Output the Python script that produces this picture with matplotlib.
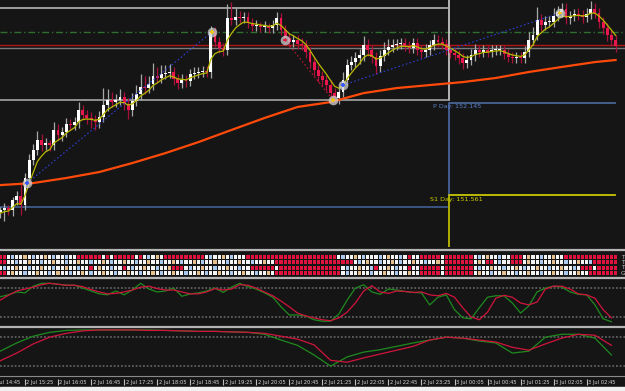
import numpy as np
import pandas as pd
import matplotlib
matplotlib.use("Agg")
from matplotlib import pyplot as plt
from matplotlib.lines import Line2D

W, H = 625, 391
BG = '#151515'
FONT = ['Liberation Sans Narrow', 'DejaVu Sans']

## 5 minute candles, first visible one is 2 Jul 14:55
first_open = 151.455
closes = [
    151.467, 151.479, 151.467, 151.530, 151.555, 151.498, 151.670, 151.784, 151.848, 151.911,
    151.879, 151.892, 151.879, 151.975, 151.943, 151.962, 152.013, 152.006, 152.025, 152.102,
    152.070, 152.051, 152.038, 152.025, 152.057, 152.133, 152.165, 152.152, 152.165, 152.184,
    152.140, 152.102, 152.159, 152.203, 152.248, 152.241, 152.267, 152.317, 152.305, 152.330,
    152.336, 152.343, 152.298, 152.273, 152.292, 152.286, 152.330, 152.336, 152.343, 152.349,
    152.343, 152.597, 152.533, 152.495, 152.483, 152.686, 152.673, 152.692, 152.686, 152.692,
    152.654, 152.635, 152.641, 152.629, 152.635, 152.622, 152.641, 152.686, 152.610, 152.559,
    152.533, 152.546, 152.521, 152.514, 152.470, 152.406, 152.356, 152.317, 152.292, 152.260,
    152.209, 152.178, 152.216, 152.292, 152.387, 152.406, 152.432, 152.451, 152.514, 152.483,
    152.438, 152.381, 152.444, 152.483, 152.502, 152.514, 152.521, 152.527, 152.508, 152.495,
    152.527, 152.483, 152.470, 152.483, 152.514, 152.546, 152.533, 152.521, 152.483, 152.463,
    152.451, 152.432, 152.400, 152.419, 152.451, 152.483, 152.470, 152.483, 152.470, 152.483,
    152.483, 152.483, 152.457, 152.438, 152.432, 152.438, 152.432, 152.470, 152.546, 152.578,
    152.673, 152.641, 152.660, 152.660, 152.698, 152.724, 152.743, 152.686, 152.698, 152.711,
    152.705, 152.692, 152.711, 152.743, 152.717, 152.660, 152.622, 152.578, 152.546, 152.508,
]
# wick lengths in pips (0.01)
up_wick = [
    2, 3, 2, 2, 3, 8, 3, 4, 4, 6, 4, 3, 2, 5, 4, 3, 4, 3, 3, 5,
    3, 3, 4, 3, 4, 11, 7, 5, 4, 5, 3, 4, 5, 6, 8, 7, 5, 8, 6, 6,
    5, 5, 3, 3, 4, 3, 3, 4, 3, 3, 3, 4, 3, 3, 3, 9, 10, 6, 4, 3,
    3, 3, 3, 2, 3, 2, 3, 4, 3, 3, 3, 3, 3, 4, 3, 3, 3, 3, 3, 3,
    3, 3, 4, 5, 4, 4, 4, 4, 6, 4, 3, 3, 4, 5, 5, 4, 3, 3, 3, 3,
    3, 3, 3, 4, 3, 4, 3, 3, 3, 3, 3, 3, 3, 3, 4, 4, 3, 3, 3, 3,
    3, 3, 3, 3, 3, 3, 3, 4, 5, 5, 8, 4, 4, 4, 5, 4, 4, 4, 3, 3,
    4, 3, 4, 5, 4, 3, 3, 3, 3, 3,
]
dn_wick = [
    4, 7, 3, 4, 3, 6, 3, 3, 3, 3, 4, 3, 4, 3, 3, 4, 3, 3, 3, 4,
    3, 4, 5, 5, 4, 3, 4, 3, 3, 3, 4, 6, 4, 3, 4, 4, 3, 4, 3, 3,
    3, 3, 4, 4, 3, 4, 3, 3, 3, 3, 3, 4, 3, 3, 4, 3, 3, 3, 3, 3,
    3, 3, 3, 3, 3, 3, 3, 3, 3, 4, 3, 3, 3, 3, 4, 4, 4, 4, 4, 4,
    6, 4, 4, 3, 3, 3, 3, 4, 4, 4, 4, 5, 4, 3, 3, 3, 3, 3, 3, 3,
    3, 3, 4, 3, 3, 3, 3, 3, 3, 3, 3, 4, 4, 3, 3, 4, 3, 3, 3, 3,
    3, 3, 3, 3, 3, 3, 3, 3, 3, 3, 3, 4, 3, 3, 3, 3, 3, 4, 4, 3,
    3, 4, 3, 3, 3, 4, 4, 4, 4, 4,
]

# fast MA value just before the window, slow MA read every 8 bars
fast_seed = 151.435
slow_idx = [0, 8, 16, 24, 32, 40, 48, 56, 64, 72, 80, 88, 96, 104, 112, 120, 128, 136, 144, 149]
slow_ma = [151.625, 151.638, 151.670, 151.708, 151.765, 151.828, 151.898, 151.975, 152.051, 152.121,
           152.152, 152.209, 152.241, 152.260, 152.279, 152.305, 152.343, 152.375, 152.406, 152.419]

# fractal points and the dotted lines joining them
piv_idx = [6.5, 51.3, 69.0, 80.6, 83.0, 135.5]
piv_price = [151.638, 152.597, 152.546, 152.165, 152.260, 152.717]
piv_color = ['#3a5cff', '#e8c820', '#e02040', '#e8c820', '#3a5cff', '#e8c820']
piv_links = [(0, 1, '#2b3fd0'), (2, 3, '#c01830'), (4, 5, '#2b3fd0')]

# level lines
day_split = 108.6
old_levels = [152.749, 152.165, 151.486]
p_day = 152.145
s1_day = 151.561

# signal grid: r red, w white, b blue, t tan
heat_rows = [
    "rrwbwwtwbw" "wtwbwwbwwr" "rrrrrwrwrr" "rrrwrwbwtw" "rrrrrrrrrr" "wbwwtwbwww" "rrrrrrrrrr" "rrrrrrrrrr"
    "rrwbwwtwbw" "wwbwtwwbwr" "wwrrrrrwrr" "rrrrrwbwtw" "wbwwrrrwtw" "wbwwtwwrrr" "rrrrrrrrrr",
    "rrwwbwwtww" "bwwtwwbwwt" "wwbwwtwbww" "twwbwwtwwb" "wwtwbwwtwb" "wwtwwbwwtw" "wbwwtwwrrr" "rrrrrrrrrr"
    "rrrrrrwbwt" "wwbwwtwbww" "twwbwwtwrr" "rrrrrwtwrr" "wbwwrrrwtw" "wbwwtwwbww" "twwbrrrrrr",
    "wbwwtwwbww" "twwbwwtwwb" "wwrwtwwbww" "rwbwwtwwbw" "wtrrrwbwwt" "wwbwwtwwbw" "wrrrrrrwrr" "rrrrrrrrrr"
    "rrrwbwwtww" "brwwtwbwwr" "wwrrrrrwrr" "rrrrrwbwwt" "wwbwwtwbww" "twwbwwtwwb" "wrrrwrrrrr",
    "rrwtwwbwwt" "wwbwtwwbww" "twbwwtwwbw" "wtwwbwwtwb" "wwtwwbwwtw" "bwwtwwbwwt" "wwbwwtwrrr" "rrrrrrrrrr"
    "rrrwbwwtww" "bwwtwwbwwt" "wwrrrrrwrr" "rrrrrwtwwb" "wwtwwbwwtw" "wbwwtwwbww" "twwrrrrrrr",
]
heat_names = ["T", "T", "T", "G"]
heat_colors = {'r': '#e2123e', 'w': '#f4f4f4', 'b': '#a9c9ee', 't': '#e6bf8e'}

# fast stochastic, every 2 bars
stoch_main = [62, 66, 72, 70, 84, 90, 90, 88, 86, 86, 80, 74, 68, 66, 74, 66, 76, 90, 78, 72,
              74, 80, 63, 68, 70, 74, 80, 71, 82, 90, 83, 78, 70, 61, 41, 24, 24, 22, 14, 11,
              11, 26, 55, 80, 87, 72, 67, 78, 76, 73, 71, 70, 45, 61, 66, 35, 18, 16, 39, 61,
              64, 64, 49, 28, 43, 72, 80, 84, 82, 72, 67, 66, 45, 16, 10]
stoch_sig = [55, 65, 74, 78, 82, 87, 90, 88, 86, 86, 83, 77, 72, 68, 69, 72, 76, 82, 84, 79,
             76, 76, 72, 68, 68, 72, 79, 76, 78, 87, 86, 80, 72, 64, 53, 41, 28, 22, 18, 14,
             12, 18, 30, 49, 74, 85, 72, 69, 74, 73, 71, 72, 66, 64, 69, 61, 39, 20, 14, 30,
             59, 65, 61, 49, 45, 51, 78, 84, 84, 78, 68, 66, 59, 35, 18]
# slow stochastic, every 4 bars
slow_main = [51, 68, 82, 90, 94, 95, 95, 95, 95, 95, 94, 93, 92, 92, 91, 90, 86, 74, 63,
             43, 20, 39, 49, 54, 61, 68, 74, 80, 78, 72, 68, 47, 51, 80, 86, 86, 78, 43]
slow_sig = [31, 47, 66, 80, 88, 93, 95, 95, 95, 94, 94, 93, 92, 92, 91, 90, 88, 82, 76,
            64, 32, 28, 37, 45, 53, 61, 74, 80, 78, 74, 70, 59, 53, 66, 78, 86, 84, 63]

tick_idx = [-2, 6, 14, 22, 30, 38, 46, 54, 62, 70, 78, 86, 94, 102, 110, 118, 126, 134, 142]
tick_text = ["2 Jul 14:45", "2 Jul 15:25", "2 Jul 16:05", "2 Jul 16:45", "2 Jul 17:25",
             "2 Jul 18:05", "2 Jul 18:45", "2 Jul 19:25", "2 Jul 20:05", "2 Jul 20:45",
             "2 Jul 21:25", "2 Jul 22:05", "2 Jul 22:45", "2 Jul 23:25", "3 Jul 00:05",
             "3 Jul 00:45", "3 Jul 01:25", "3 Jul 02:05", "3 Jul 02:45"]

XL = (0 - 0.2) / 4.13
XR = (W - 0.2) / 4.13


def panel(y0, y1):
    ax = fig.add_axes([0, 1 - y1 / H, 1, (y1 - y0) / H])
    ax.set_facecolor(BG)
    ax.set_xlim(XL, XR)
    ax.set_xticks([])
    ax.set_yticks([])
    for s in ax.spines.values():
        s.set_visible(False)
    return ax


def hline(y, color, lw):
    fig.add_artist(Line2D([0, 1], [1 - y / H] * 2, transform=fig.transFigure, color=color, lw=lw))


fig = plt.figure(figsize=(W / 100, H / 100), dpi=100, facecolor=BG)

## main price panel
ax = panel(0, 247)
ax.set_ylim(151.232, 152.80)
x = np.arange(len(closes))
c = np.array(closes)
o = np.array([first_open] + closes[:-1])
bull = c >= o
lo_b = np.minimum(o, c)
hi_b = np.maximum(o, c)
hi = hi_b + np.array(up_wick) * 0.01
lo = lo_b - np.array(dn_wick) * 0.01
body = np.maximum(hi_b - lo_b, 0.005)

ax.plot([XL, day_split - 0.4], [old_levels[0]] * 2, color='#a8a8a8', lw=1.3)
ax.plot([XL, day_split - 0.4], [old_levels[1]] * 2, color='#9a9a9a', lw=1.3)
ax.plot([XL, day_split - 0.4], [old_levels[2]] * 2, color='#3d5a8a', lw=1.3)
ax.axhline(152.597, color='#2e6e2e', lw=1, ls=(0, (5, 2, 1, 2)))
ax.axhline(152.514, color='#b01818', lw=1)
ax.axhline(152.498, color='#7a7a7a', lw=1)
ax.plot([day_split + 0.4, 148.9], [p_day] * 2, color='#4a6595', lw=1.3)
ax.plot([day_split + 0.4, 148.9], [s1_day] * 2, color='#c8c800', lw=1.3)
ax.plot([day_split] * 2, [152.165, 152.80], color='#d0d0d0', lw=1.2)
ax.plot([day_split] * 2, [s1_day, p_day], color='#4a6aa8', lw=1.2)
ax.plot([day_split] * 2, [151.232, s1_day], color='#c8c800', lw=1.2)
ax.text(104.8, 152.121, "P Day: 152.145", color='#5b80c8', fontsize=4.6, family=FONT, va='center')
ax.text(104.1, 151.536, "S1 Day: 151.561", color='#d0d000', fontsize=4.6, family=FONT, va='center')

ax.vlines(x[bull], lo[bull], hi[bull], color='#a8a8a8', lw=0.9, zorder=3)
ax.vlines(x[~bull], lo[~bull], hi[~bull], color='#a8123a', lw=0.9, zorder=3)
ax.bar(x[bull], body[bull], bottom=lo_b[bull], width=0.7, color='#ffffff', lw=0, zorder=4)
ax.bar(x[~bull], body[~bull], bottom=lo_b[~bull], width=0.7, color='#e8184c', lw=0, zorder=4)

fast = pd.Series([fast_seed] + closes).ewm(span=5, adjust=False).mean().values[1:]
ax.plot(x, fast, color='#b8b800', lw=0.9, zorder=5)
ax.plot(slow_idx, slow_ma, color='#ff4a0a', lw=1.6, zorder=5)

for a, b, col in piv_links:
    ax.plot([piv_idx[a], piv_idx[b]], [piv_price[a], piv_price[b]], color=col, lw=0.8, ls=(0, (1.5, 2)), zorder=5)
ax.scatter(piv_idx, piv_price, s=48, color='#d0d0d0', alpha=0.75, lw=0, zorder=6)
ax.scatter(piv_idx, piv_price, s=8, color=piv_color, marker='P', lw=0, zorder=7)

## signal grid
ax = panel(251, 277)
ax.set_ylim(3.75, -1.13)
for r, row in enumerate(heat_rows):
    cols = [heat_colors[ch] for ch in row[:len(closes)]]
    ax.bar(np.arange(len(cols)), 0.8, bottom=r - 0.4, width=0.76, color=cols, lw=0)
    ax.text(150.3, r, heat_names[r], color='#c8c8c8', fontsize=4.2, family=FONT, va='center')

## fast stochastic
ax = panel(278.5, 326.5)
ax.set_ylim(0, 100)
for lvl in (80, 20):
    ax.axhline(lvl, color='#6a6a6a', lw=1.1, ls=(0, (1.2, 1.2)))
ax.plot(np.arange(len(stoch_main)) * 2, stoch_main, color='#1f8a1f', lw=0.9)
ax.plot(np.arange(len(stoch_sig)) * 2, stoch_sig, color='#d0143c', lw=0.9)

## slow stochastic
ax = panel(328, 375.5)
ax.set_ylim(0.5, 99)
for lvl in (80, 20):
    ax.axhline(lvl, color='#6a6a6a', lw=1.1, ls=(0, (1.2, 1.2)))
ax.plot(np.arange(len(slow_main)) * 4, slow_main, color='#1f8a1f', lw=0.9)
ax.plot(np.arange(len(slow_sig)) * 4, slow_sig, color='#d0143c', lw=0.9)

## time axis
ax = panel(376, 387)
ax.set_ylim(0, 1)
ax.vlines(tick_idx, 0.15, 0.75, color='#c0c0c0', lw=0.8)
for t, s in zip(tick_idx, tick_text):
    ax.text(t + 0.35, 0.45, s, color='#d8d8d8', fontsize=3.7, family=FONT, va='center')

## window separators
hline(249.5, '#b4b4b4', 1.6)
hline(278, '#b4b4b4', 1.6)
hline(327, '#b4b4b4', 1.6)
hline(376, '#8a8a8a', 0.8)
fig.add_artist(plt.Rectangle((0, 0), 1, 4 / H, transform=fig.transFigure, color='#f0f0f0'))

fig.savefig("out.png", dpi=100, facecolor=BG)
